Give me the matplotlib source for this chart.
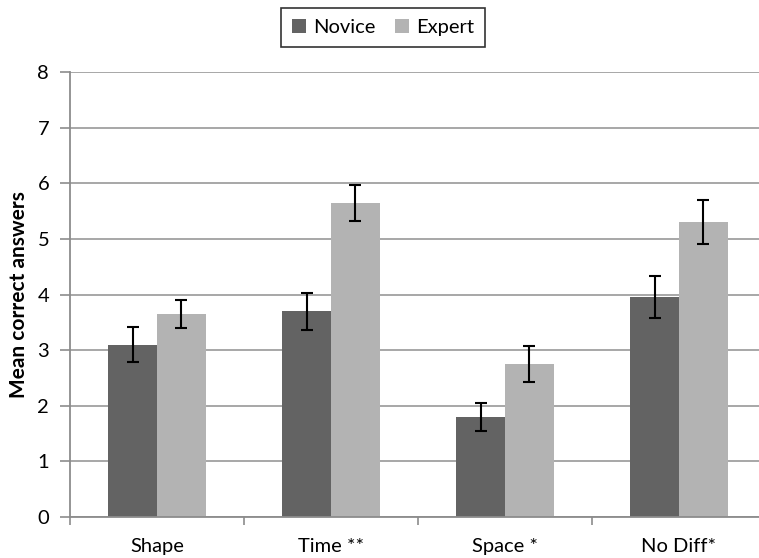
import matplotlib
matplotlib.use("Agg")
import matplotlib.pyplot as plt
import numpy as np

categories = ["Shape", "Time **", "Space *", "No Diff*"]
novice = [3.1, 3.7, 1.8, 3.95]
novice_err = [0.31, 0.33, 0.25, 0.38]
expert = [3.65, 5.65, 2.75, 5.3]
expert_err = [0.26, 0.32, 0.33, 0.40]
yticks = [0, 1, 2, 3, 4, 5, 6, 7, 8]

plt.rcParams['font.family'] = ['Lato', 'DejaVu Sans']

fig = plt.figure(figsize=(7.59, 5.58), dpi=100)
ax = fig.add_axes([70/759, 41/558, 696/759, 445/558])

x = np.arange(len(categories))
w = 0.28
ax.bar(x - w/2, novice, w, color='#636363', label='Novice', zorder=2)
ax.bar(x + w/2, expert, w, color='#b3b3b3', label='Expert', zorder=2)
ax.errorbar(x - w/2, novice, yerr=novice_err, fmt='none', ecolor='black',
            elinewidth=1.5, capsize=4.5, capthick=1.5, zorder=3)
ax.errorbar(x + w/2, expert, yerr=expert_err, fmt='none', ecolor='black',
            elinewidth=1.5, capsize=4.5, capthick=1.5, zorder=3)

ax.set_xlim(-0.5, len(categories) - 0.5)
ax.set_ylim(0, 8)
ax.set_yticks(yticks)
ax.set_yticklabels([str(t) for t in yticks], fontsize=14.5)
ax.yaxis.grid(True, color='#a0a0a0', linewidth=1.3, zorder=0)
ax.set_axisbelow(True)

ax.set_xticks(np.arange(len(categories) + 1) - 0.5)
ax.set_xticklabels([])
ax.set_xticks(x, minor=True)
ax.set_xticklabels(categories, minor=True, fontsize=14.5)
ax.tick_params(axis='x', which='minor', length=0, pad=15)
ax.tick_params(axis='x', which='major', length=6, color='#8c8c8c', width=1.2, direction='out')
ax.tick_params(axis='y', length=7, color='#8c8c8c', width=1.2, direction='out', pad=8)

for s in ['top', 'right']:
    ax.spines[s].set_visible(False)
for s in ['left', 'bottom']:
    ax.spines[s].set_color('#8c8c8c')
    ax.spines[s].set_linewidth(1.3)

ax.set_ylabel('Mean correct answers', fontsize=15, fontweight='bold', labelpad=6)

leg = fig.legend(loc='center', bbox_to_anchor=(383/759, 1 - 27.5/558), ncol=2,
                 frameon=True, fancybox=False, edgecolor='black', fontsize=14.5,
                 handlelength=0.7, handleheight=0.7, handletextpad=0.35,
                 columnspacing=1.0, borderpad=0.55)
leg.get_frame().set_linewidth(1.2)

fig.savefig('out.png', dpi=100)
